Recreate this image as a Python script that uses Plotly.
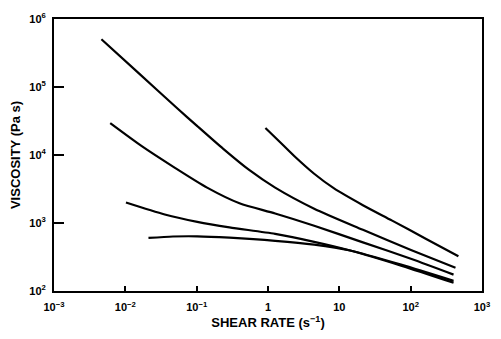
import plotly.graph_objects as go

# Shear rate (1/s) and viscosity (Pa s) for each flow curve
rate_a = [0.00462, 0.0155, 0.0543, 0.102, 0.236, 0.544, 1.26, 4.44, 21.4, 103, 425]
visc_a = [5.04e5, 1.585e5, 4.79e4, 2.66e4, 1.23e4, 6026, 3311, 1622, 794, 398, 219]

rate_b = [0.00614, 0.0170, 0.0490, 0.140, 0.398, 1.26, 4.44, 21.4, 103, 399]
visc_b = [2.94e4, 1.349e4, 6531, 3311, 1950, 1380, 912, 519, 295, 174]

rate_c = [0.0102, 0.0357, 0.102, 0.288, 1.26, 4.44, 14.2, 75.3, 399]
visc_c = [2000, 1334, 1040, 863, 692, 529, 394, 234, 132]

rate_d = [0.0211, 0.0465, 0.102, 0.288, 1.26, 4.44, 14.2, 75.3, 399]
visc_d = [603, 633, 637, 608, 547, 480, 394, 242, 141]

rate_e = [0.92, 1.48, 2.37, 4.44, 8.34, 21.4, 55.0, 165, 467]
visc_e = [2.5e4, 1.54e4, 9500, 5300, 3250, 1828, 1084, 583, 324]

x_tickvals = [1e-3, 1e-2, 1e-1, 1, 10, 1e2, 1e3]
x_ticktext = ["10<sup>−3</sup>", "10<sup>−2</sup>", "10<sup>−1</sup>", "1", "10",
              "10<sup>2</sup>", "10<sup>3</sup>"]
y_tickvals = [1e2, 1e3, 1e4, 1e5, 1e6]
y_ticktext = ["10<sup>2</sup>", "10<sup>3</sup>", "10<sup>4</sup>", "10<sup>5</sup>",
              "10<sup>6</sup>"]

fig = go.Figure()
for xs, ys in [(rate_a, visc_a), (rate_b, visc_b), (rate_c, visc_c),
               (rate_d, visc_d), (rate_e, visc_e)]:
    fig.add_trace(go.Scatter(
        x=xs, y=ys, mode="lines",
        line=dict(color="#000000", width=2.2, shape="spline", smoothing=0.7),
        showlegend=False, hoverinfo="skip"))

tick_font = dict(family="Liberation Sans, Arial, sans-serif", size=11,
                 color="#000000", weight="bold")
title_font = dict(family="Liberation Sans, Arial, sans-serif", size=13,
                  color="#000000", weight="bold")

fig.update_xaxes(
    type="log", range=[-3, 3],
    tickvals=x_tickvals, ticktext=x_ticktext,
    ticks="inside", ticklen=5, tickwidth=2, tickcolor="#000",
    ticklabelstandoff=5,
    showline=True, linecolor="#000", linewidth=2, mirror=True,
    showgrid=False, zeroline=False,
    tickfont=tick_font,
    title=dict(text="SHEAR RATE (s<sup>−1</sup>)", font=title_font, standoff=6),
)
fig.update_yaxes(
    type="log", range=[2, 6],
    tickvals=y_tickvals, ticktext=y_ticktext,
    ticks="inside", ticklen=10, tickwidth=2, tickcolor="#000",
    ticklabelstandoff=4,
    showline=True, linecolor="#000", linewidth=2, mirror=True,
    showgrid=False, zeroline=False,
    tickfont=tick_font,
    title=dict(text="VISCOSITY (Pa s)", font=title_font, standoff=6),
)

fig.update_layout(
    width=501, height=339,
    margin=dict(l=54, r=11, t=14, b=43),
    paper_bgcolor="white", plot_bgcolor="white",
)

fig.write_html("out.html")
